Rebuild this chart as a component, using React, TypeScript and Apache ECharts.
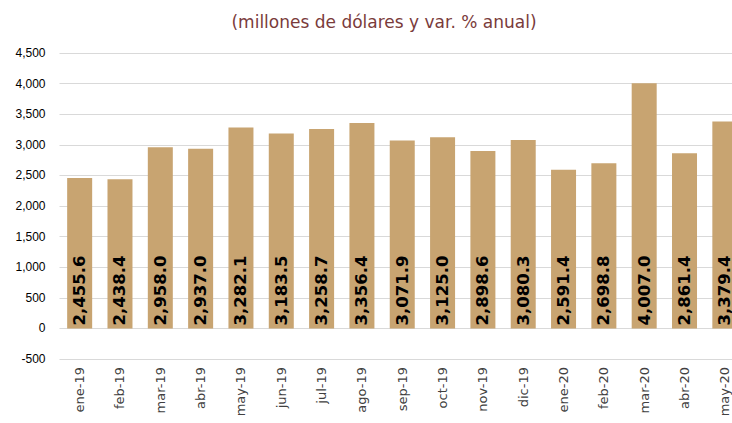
import React, { useEffect, useRef } from "react";
import * as echarts from "echarts";

const categories = [
  "ene-19", "feb-19", "mar-19", "abr-19", "may-19", "jun-19", "jul-19", "ago-19",
  "sep-19", "oct-19", "nov-19", "dic-19", "ene-20", "feb-20", "mar-20", "abr-20", "may-20",
];
const values = [
  2455.6, 2438.4, 2958.0, 2937.0, 3282.1, 3183.5, 3258.7, 3356.4,
  3071.9, 3125.0, 2898.6, 3080.3, 2591.4, 2698.8, 4007.0, 2861.4, 3379.4,
];
const titleText = "(millones de dólares y var. % anual)";

const fmt = (v: number, d: number) =>
  v.toLocaleString("en-US", { minimumFractionDigits: d, maximumFractionDigits: d });

export default function App() {
  const ref = useRef<HTMLDivElement>(null);
  useEffect(() => {
    document.body.style.margin = "0";
    const chart = echarts.init(ref.current!, null, { renderer: "svg" });
    chart.setOption({
      animation: false,
      graphic: [
        {
          type: "text",
          x: 384,
          y: 22,
          style: {
            text: titleText,
            fill: "#7A3B3B",
            font: "17px 'DejaVu Sans'",
            textAlign: "center",
            textVerticalAlign: "middle",
          },
        },
      ],
      grid: { left: 59.5, right: 0, top: 53, bottom: 64, containLabel: false },
      xAxis: {
        type: "category",
        data: categories,
        axisLine: { onZero: false, show: false },
        axisTick: { show: false },
        axisLabel: {
          rotate: 90,
          margin: 8,
          color: "#404040",
          fontFamily: "DejaVu Sans",
          fontSize: 13,
          interval: 0,
        },
      },
      yAxis: {
        type: "value",
        min: -500,
        max: 4500,
        interval: 500,
        axisLine: { show: false },
        axisTick: { show: false },
        splitLine: { lineStyle: { color: "#D9D9D9", width: 1 } },
        axisLabel: {
          margin: 14,
          color: "#000",
          fontFamily: "Liberation Sans",
          fontSize: 12,
          formatter: (v: number) => fmt(v, 0),
        },
      },
      series: [
        {
          type: "bar",
          data: values,
          barWidth: 25,
          itemStyle: { color: "#C8A471" },
          label: {
            show: true,
            position: "insideBottom",
            rotate: 90,
            align: "left",
            verticalAlign: "middle",
            distance: 3,
            color: "#000",
            fontFamily: "DejaVu Sans",
            fontWeight: "bold",
            fontSize: 16.5,
            formatter: (p: any) => fmt(p.value, 1),
          },
        },
      ],
    });
    return () => chart.dispose();
  }, []);
  return (
    <div
      style={{ position: "absolute", left: 0, top: 0, width: 732, height: 423, overflow: "hidden", background: "#fff" }}
    >
      <div ref={ref} style={{ width: 745, height: 423 }} />
    </div>
  );
}
